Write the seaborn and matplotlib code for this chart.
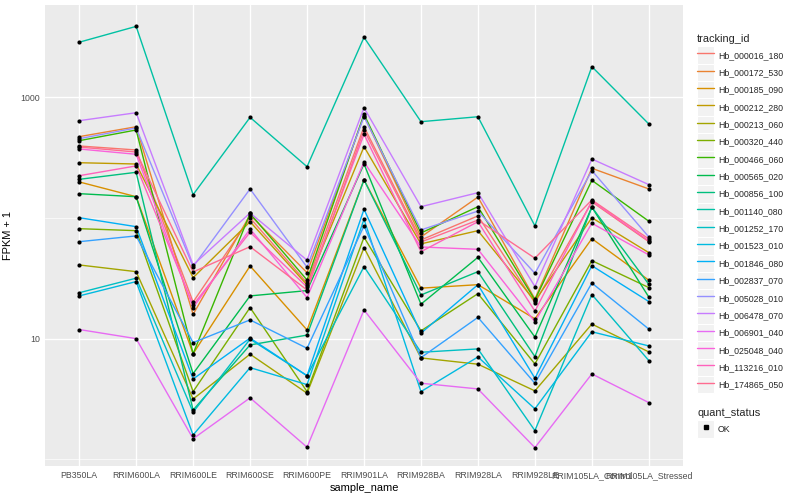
import pandas as pd
import seaborn as sns
import matplotlib.pyplot as plt
from matplotlib.lines import Line2D
from matplotlib.patches import Rectangle
from matplotlib.legend_handler import HandlerLine2D
from matplotlib.ticker import FixedLocator, NullFormatter

# samples on the x axis
samples = ['PB350LA', 'RRIM600LA', 'RRIM600LE', 'RRIM600SE', 'RRIM600PE', 'RRIM901LA',
           'RRIM928BA', 'RRIM928LA', 'RRIM928LE', 'RRIM105LA_Control', 'RRIM105LA_Stressed']

# FPKM + 1 per gene (same order as samples)
hb_000016_180 = [395, 366, 20.1, 100, 28.9, 570, 65.7, 104, 19.8, 136, 63.6]
hb_000172_530 = [472, 570, 15.9, 106, 35.2, 706, 69.6, 149, 21.3, 258, 174]
hb_000185_090 = [199, 150, 7.5, 40, 11.8, 207, 26.2, 28, 14.6, 67.4, 30.5]
hb_000212_280 = [287, 280, 32, 93.1, 27.9, 390, 61, 78.5, 20.5, 100.5, 51.6]
hb_000213_060 = [40.8, 35.9, 3.16, 7.43, 3.53, 56.8, 6.92, 6.14, 3.69, 13.2, 7.76]
hb_000320_440 = [81.5, 78.5, 3.64, 18.1, 3.64, 69.2, 11.6, 23.6, 6.17, 44.3, 26.5]
hb_000466_060 = [437, 536, 7.5, 109, 30.6, 723, 75.1, 124, 20.9, 205, 94]
hb_000565_020 = [159, 150, 5.13, 22.6, 25, 280, 19.3, 47.2, 10.3, 123, 22.1]
hb_000856_100 = [209, 239, 2.56, 8.87, 10.7, 207, 23, 35.9, 7.1, 123, 28.2]
hb_001140_080 = [2860, 3870, 156, 682, 266, 3140, 628, 690, 86, 1795, 601]
hb_001252_170 = [24, 31.7, 2.46, 9.9, 4.93, 39.5, 7.71, 8.22, 1.73, 23.2, 6.58]
hb_001523_010 = [22.6, 29.7, 1.59, 5.75, 4.16, 97.5, 3.64, 7.05, 2.62, 11.4, 8.7]
hb_001846_080 = [100.5, 84.7, 4.63, 10.1, 4.93, 118, 11.1, 28, 4.7, 40.2, 20.3]
hb_002837_070 = [63.6, 71, 9.27, 14.3, 8.32, 86, 6.96, 15, 4.27, 28.9, 12]
hb_005028_010 = [454, 557, 39.5, 174, 39.1, 690, 79.6, 114, 34.8, 247, 69.6]
hb_006478_070 = [640, 745, 40.8, 110, 44.7, 820, 124, 162, 27, 308, 189]
hb_006901_040 = [11.9, 10, 1.48, 3.23, 1.26, 17.3, 4.27, 3.83, 1.25, 5.1, 2.95]
hb_025048_040 = [373, 337, 18.1, 81, 21.9, 291, 57.5, 55, 13.8, 90.4, 49.4]
hb_113216_010 = [224, 270, 19, 76.2, 26.8, 494, 52.6, 93.1, 16.9, 138, 64.5]
hb_174865_050 = [387, 352, 35.7, 57.8, 25.3, 536, 63.2, 96, 46.4, 141, 67]

genes = ['Hb_000016_180', 'Hb_000172_530', 'Hb_000185_090', 'Hb_000212_280', 'Hb_000213_060',
         'Hb_000320_440', 'Hb_000466_060', 'Hb_000565_020', 'Hb_000856_100', 'Hb_001140_080',
         'Hb_001252_170', 'Hb_001523_010', 'Hb_001846_080', 'Hb_002837_070', 'Hb_005028_010',
         'Hb_006478_070', 'Hb_006901_040', 'Hb_025048_040', 'Hb_113216_010', 'Hb_174865_050']
series = [hb_000016_180, hb_000172_530, hb_000185_090, hb_000212_280, hb_000213_060,
          hb_000320_440, hb_000466_060, hb_000565_020, hb_000856_100, hb_001140_080,
          hb_001252_170, hb_001523_010, hb_001846_080, hb_002837_070, hb_005028_010,
          hb_006478_070, hb_006901_040, hb_025048_040, hb_113216_010, hb_174865_050]

# ggplot2 default hue palette for 20 levels
colors = ['#F8766D', '#EA8331', '#D89000', '#C09B00', '#A3A500', '#7CAE00', '#39B600',
          '#00BB4E', '#00BF7D', '#00C1A3', '#00BFC4', '#00BAE0', '#00B0F6', '#35A2FF',
          '#9590FF', '#C77CFF', '#E76BF3', '#FA62DB', '#FF62BC', '#FF6C91']

rows = []
for g, vals in zip(genes, series):
    for s, v in zip(samples, vals):
        rows.append({'tracking_id': g, 'sample_name': s, 'fpkm1': v, 'quant_status': 'OK'})
df = pd.DataFrame(rows)
df['x'] = df['sample_name'].map({s: i for i, s in enumerate(samples)})

sns.set_theme(style='darkgrid', rc={
    'axes.facecolor': '#EBEBEB', 'grid.color': 'white', 'axes.edgecolor': 'none',
    'xtick.color': '#333333', 'ytick.color': '#333333',
    'xtick.labelcolor': '#4D4D4D', 'ytick.labelcolor': '#4D4D4D',
})
plt.rcParams['font.family'] = ['Liberation Sans', 'DejaVu Sans']

fig = plt.figure(figsize=(8, 5), dpi=100)
ax = fig.add_axes([45 / 800, 1 - 466 / 500, (683 - 45) / 800, (466 - 5) / 500])

sns.lineplot(data=df, x='x', y='fpkm1', hue='tracking_id', hue_order=genes, palette=colors,
             estimator=None, sort=False, linewidth=1.0, legend=False, ax=ax)
sns.scatterplot(data=df, x='x', y='fpkm1', color='black', s=9, linewidth=0,
                legend=False, ax=ax, zorder=3)

ax.set_yscale('log')
ax.set_ylim(0.88, 5820)
ax.set_xlim(-0.6, len(samples) - 0.4)
ax.yaxis.set_major_locator(FixedLocator([10, 1000]))
ax.set_yticklabels(['10', '1000'])
ax.yaxis.set_minor_locator(FixedLocator([1, 100]))
ax.yaxis.set_minor_formatter(NullFormatter())
ax.set_xticks(range(len(samples)))
ax.set_xticklabels(samples)
ax.tick_params(which='major', length=2, width=0.8, pad=1.6, labelsize=6.3)
ax.tick_params(which='minor', length=0)
ax.grid(which='major', color='white', linewidth=1.0)
ax.grid(which='minor', axis='y', color='white', linewidth=0.5)
ax.set_xlabel('sample_name', fontsize=7.9, color='black', labelpad=2)
ax.set_ylabel('FPKM + 1', fontsize=7.9, color='black', labelpad=5)

SPACING = 0.45


class KeyHandler(HandlerLine2D):
    # grey ggplot-style key box behind each legend line
    def create_artists(self, legend, orig_handle, xdescent, ydescent, width, height, fontsize, trans):
        extra = SPACING * fontsize
        bg = Rectangle((-xdescent, -ydescent - extra / 2), width, height + extra,
                       facecolor='#F2F2F2', edgecolor='white', linewidth=0.8, transform=trans)
        arts = super().create_artists(legend, orig_handle, xdescent, ydescent,
                                      width, height, fontsize, trans)
        return [bg] + list(arts)


handles = [Line2D([], [], color=c, lw=1.0) for c in colors]
leg1 = fig.legend(handles, genes, title='tracking_id', loc='upper left',
                  bbox_to_anchor=(697 / 800, 1 - 34.5 / 500), frameon=False,
                  fontsize=6.3, title_fontsize=7.9, alignment='left',
                  handlelength=1.98, handleheight=1.98, labelspacing=SPACING,
                  handletextpad=0.42, borderpad=0, borderaxespad=0,
                  handler_map={Line2D: KeyHandler()})
ok = Line2D([], [], color='black', marker='s', ls='none', ms=2.2)
leg2 = fig.legend([ok], ['OK'], title='quant_status', loc='upper left',
                  bbox_to_anchor=(697 / 800, 1 - 408.5 / 500), frameon=False,
                  fontsize=6.3, title_fontsize=7.9, alignment='left',
                  handlelength=1.98, handleheight=1.98, labelspacing=SPACING,
                  handletextpad=0.42, borderpad=0, borderaxespad=0,
                  handler_map={Line2D: KeyHandler(numpoints=1)})

fig.savefig('out.png', dpi=100)
